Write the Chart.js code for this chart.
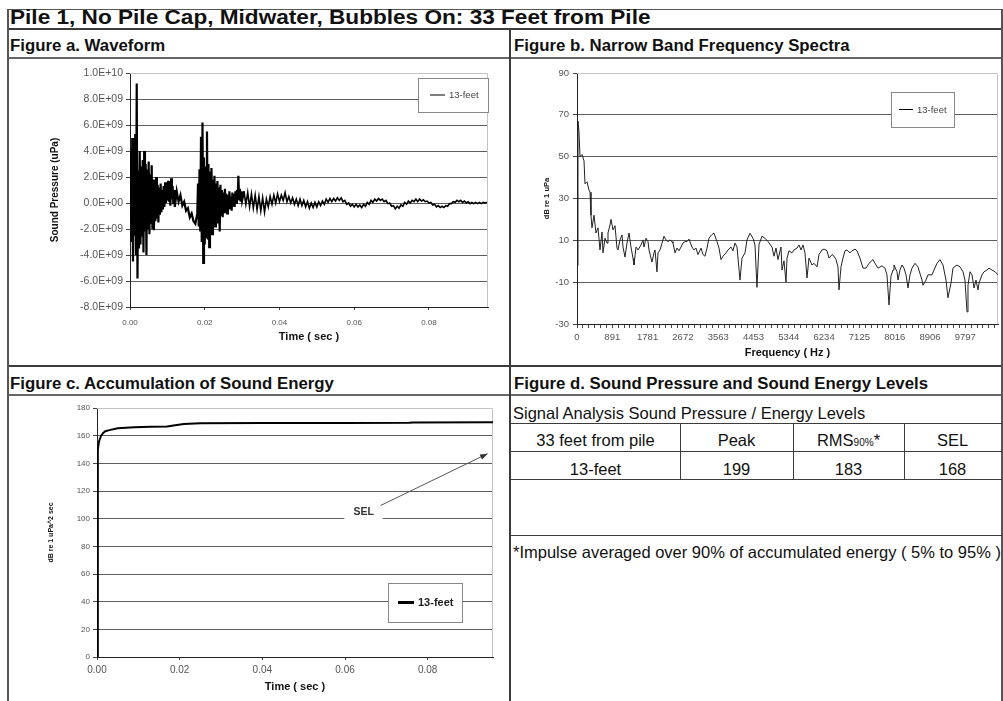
<!DOCTYPE html>
<html>
<head>
<meta charset="utf-8">
<script src="https://cdn.jsdelivr.net/npm/chart.js@4.4.1/dist/chart.umd.min.js"></script>
<style>
  html, body { margin: 0; padding: 0; background: #fff; }
  #page { position: relative; width: 1003px; height: 701px; overflow: hidden;
          font-family: "Liberation Sans", Arial, sans-serif; color: #111; }
  .ln { position: absolute; background: #3c3c3c; }
  .txt { position: absolute; white-space: nowrap; }
  .hd { font-weight: bold; font-size: 16.8px; line-height: 18px; }
  .cell { position: absolute; text-align: center; font-size: 16.5px; line-height: 18px; white-space: nowrap; }
  canvas { position: absolute; }
</style>
</head>
<body>
<div id="page">
  <!-- frame -->
  <div class="ln" style="left:7px;top:9px;width:996px;height:1px;background:#555"></div>
  <div class="ln" style="left:7px;top:28px;width:996px;height:2px"></div>
  <div class="ln" style="left:7px;top:57px;width:996px;height:2px;background:#666"></div>
  <div class="ln" style="left:7px;top:365px;width:996px;height:2px"></div>
  <div class="ln" style="left:7px;top:394px;width:996px;height:2px;background:#666"></div>
  <div class="ln" style="left:7px;top:9px;width:2px;height:692px;background:#555"></div>
  <div class="ln" style="left:509px;top:29px;width:2px;height:672px"></div>
  <div class="ln" style="left:1001px;top:9px;width:2px;height:692px;background:#555"></div>

  <div class="txt" style="left:10px;top:6px;font-size:20px;line-height:22px;font-weight:bold;transform:scaleX(1.13);transform-origin:0 0;">Pile 1, No Pile Cap, Midwater, Bubbles On: 33 Feet from Pile</div>
  <div class="txt hd" style="left:10px;top:37px;">Figure a. Waveform</div>
  <div class="txt hd" style="left:514px;top:37px;">Figure b. Narrow Band Frequency Spectra</div>
  <div class="txt hd" style="left:10px;top:375px;">Figure c. Accumulation of Sound Energy</div>
  <div class="txt hd" style="left:514px;top:375px;">Figure d. Sound Pressure and Sound Energy Levels</div>

  <canvas id="chart-waveform" width="501" height="308" style="left:8px;top:58px"></canvas>
  <canvas id="chart-spectrum" width="490" height="308" style="left:511px;top:58px"></canvas>
  <canvas id="chart-energy" width="501" height="305" style="left:8px;top:396px"></canvas>

  <!-- figure d table -->
  <div class="txt" style="left:513px;top:404px;font-size:16.5px;line-height:18px;">Signal Analysis Sound Pressure / Energy Levels</div>
  <div class="ln" style="left:511px;top:423px;width:492px;height:1px"></div>
  <div class="ln" style="left:511px;top:451px;width:492px;height:1px"></div>
  <div class="ln" style="left:511px;top:479px;width:492px;height:1px"></div>
  <div class="ln" style="left:511px;top:535px;width:492px;height:1px"></div>
  <div class="ln" style="left:680px;top:423px;width:1px;height:56px"></div>
  <div class="ln" style="left:793px;top:423px;width:1px;height:56px"></div>
  <div class="ln" style="left:904px;top:423px;width:1px;height:56px"></div>
  <div id="table-cells"></div>
  <div class="txt" style="left:513px;top:543px;font-size:16.5px;line-height:18px;">*Impulse averaged over 90% of accumulated energy ( 5% to 95% )</div>
</div>

<script>
// ---- figure a: waveform, pressure in units of 1E+09 uPa ----
const burst1Start = 0, burst1Step = 0.0002;
const burst1 = [0, 4.2, -3.0, 5.0, -4.5, 3.0, -2.5, 5.3, -4.0, 9.2,
  -5.8, 2.5, -3.5, 4.0, -3.2, 2.8, -2.6, 3.3, -3.8, 4.0,
  -2.2, 3.0, -4.0, 2.6, -2.0, 3.2, -2.4, 2.2, -1.6, 2.9,
  -2.0, 1.8, -2.1, 1.6, -1.4, 2.0, -1.2, 1.4, -1.5, 1.2,
  -0.9, 1.5, -0.7, 1.0, -0.5, 1.3, -0.3, 1.6, 0.0, 1.2,
  0.2, 1.7, 0.1, 1.4, -0.2, 1.9, 0.3, 1.3, -0.1, 1.0, -0.3];
const lullStart = 0.0125, lullStep = 0.0005;
const lull = [0.9, 0.1, 0.6, -0.2, 0.1, -0.6, -0.4, -1.1, -0.8, -1.4, -1.6];
const burst2Start = 0.018, burst2Step = 0.0002;
const burst2 = [-0.8, 1.5, -1.8, 2.6, -2.2, 5.1, -3.0, 6.2, -4.6, 3.5,
  -3.2, 2.8, -2.6, 5.5, -2.8, 3.0, -3.4, 2.4, -2.0, 2.7,
  -2.4, 1.8, -1.6, 2.1, -1.8, 1.5, -1.3, 1.7, -1.5, 1.2,
  -2.2, 1.4, -0.9, 1.0, -1.1, 0.8, -0.7, 1.1, -0.6, 0.7,
  -0.8, 0.6, -0.5, 0.9, -0.4, 0.5, -0.6, 0.8, -0.2, 0.7,
  -0.3, 0.9, 0.0, 1.0, 0.2, 2.1, 0.3, 1.1, 0.1, 0.9, 0.2];
const tailStart = 0.0305, tailStep = 0.0005;
const tail = [0.9, -0.1, 0.8, -0.3, 0.7, -0.4, 0.6, -0.5, 0.5, -0.6,
  0.4, -0.7, 0.3, -0.3, 0.5, -0.1, 0.6, 0.0, 0.7, 0.1,
  0.6, 0.2, 0.8, 0.1, 0.5, 0.0, 0.4, -0.1, 0.3, -0.2,
  0.3, -0.2, 0.2, -0.3, 0.1, -0.4, 0.0, -0.35, 0.05, -0.3,
  0.1, -0.2, 0.15, -0.1, 0.3, 0.05, 0.35, 0.1, 0.35, 0.15,
  0.4, 0.2, 0.4, 0.1, 0.2, -0.1, 0.0, -0.25, -0.1, -0.3,
  -0.1, -0.3, -0.15, -0.35, -0.1, -0.25, 0.05, -0.1, 0.2, 0.05,
  0.3, 0.15, 0.35, 0.2, 0.3, 0.1, 0.2, -0.05, 0.0, -0.25,
  -0.2, -0.45, -0.25, -0.4, -0.15, -0.25, 0.05, -0.1, 0.15, 0.0,
  0.2, 0.1, 0.3, 0.1, 0.3, 0.15, 0.25, 0.1, 0.15, 0.0,
  0.05, -0.15, -0.1, -0.3, -0.2, -0.35, -0.25, -0.35, -0.2, -0.25,
  -0.05, -0.05, 0.1, 0.05, 0.2, 0.1, 0.2, 0.05, 0.15, 0.0,
  0.1, -0.05, 0.05, -0.05, 0.05, -0.05, 0.05, -0.05, 0.05, 0.0, 0.05];
const timeMax = 0.0958;
const timeTicks = [0, 0.02, 0.04, 0.06, 0.08];
const timeTickLabels = ['0.00', '0.02', '0.04', '0.06', '0.08'];
const pressureTicks = [-8, -6, -4, -2, 0, 2, 4, 6, 8, 10];
const pressureTickLabels = ['-8.0E+09', '-6.0E+09', '-4.0E+09', '-2.0E+09', '0.0E+00',
  '2.0E+09', '4.0E+09', '6.0E+09', '8.0E+09', '1.0E+10'];

// ---- figure b: narrow band spectrum (Hz, dB re 1 uPa) ----
const specFreq = [0, 25, 50, 76, 126, 177, 202, 252, 303, 328, 353, 378, 429, 479, 530, 580, 631, 656, 706, 757,
  782, 833, 858, 908, 959, 1009, 1034, 1085, 1135, 1161, 1211, 1262, 1312, 1362, 1413, 1438, 1489, 1539, 1615, 1665,
  1690, 1741, 1791, 1817, 1892, 1943, 1968, 2018, 2044, 2094, 2145, 2195, 2245, 2296, 2346, 2397, 2422, 2473, 2523, 2573,
  2624, 2674, 2725, 2775, 2826, 2901, 2952, 3002, 3053, 3129, 3179, 3229, 3280, 3330, 3406, 3457, 3532, 3583, 3633, 3684,
  3759, 3810, 3885, 3936, 3986, 4037, 4112, 4163, 4239, 4289, 4365, 4440, 4491, 4541, 4592, 4668, 4743, 4819, 4920, 4970,
  5021, 5071, 5147, 5172, 5223, 5273, 5299, 5349, 5424, 5475, 5551, 5601, 5652, 5702, 5752, 5803, 5853, 5929, 5980, 6055,
  6106, 6181, 6232, 6308, 6358, 6434, 6484, 6535, 6585, 6610, 6661, 6711, 6762, 6812, 6888, 6938, 7014, 7064, 7140, 7216,
  7291, 7367, 7468, 7519, 7594, 7695, 7771, 7821, 7872, 7922, 7973, 7998, 8074, 8099, 8149, 8200, 8250, 8301, 8351, 8402,
  8452, 8528, 8603, 8704, 8730, 8805, 8856, 8957, 9007, 9083, 9158, 9234, 9310, 9360, 9436, 9486, 9587, 9663, 9739, 9789,
  9840, 9865, 9916, 9966, 10017, 10067, 10117, 10143, 10218, 10269, 10344, 10395, 10471, 10546, 10622];
const specLevel = [-2, 67, 62, 50, 51, 48, 37, 38, 34, 33, 22, 16, 22, 13.5, 16, 5.4, 14, 4, 11, 8.7,
  13.5, 17.4, 20, 15, 17, 6.3, 5.4, 10.2, 12.6, 6.8, 2, 8.7, 13.5, 6.8, 1.4, -1.8, 6.8, 5.4, 7.8, 10.2,
  6.8, 11, 9.4, 5.4, -0.4, 4, 5.4, -5.1, 4, 5.4, 8.7, 12, 10.2, 9.4, 10.2, 9.4, 8.7, 4, 6.3, 5,
  6.8, 8.7, 9.4, 9.4, 10.6, 6.8, 5.4, 6.3, 3.2, 6.3, 3.2, 2.4, 6.3, 11, 12.8, 13.4, 9.4, 6.3, 0.8, 2.4,
  4, 5.4, 6.8, 5, 8.7, 6.8, -9, 1.5, 4, 10.2, 13.4, 11, 7.8, -12.5, 8, 12, 11, 9.4, 6.8, 2.4,
  6.3, 0.8, 6.8, -4.2, 0.2, -10, 1.5, 5, 4, 5.4, 6.3, 7.8, 5.4, 7.8, 4, -8, 1.5, -1.8, -1, -2.7,
  3.2, 5.4, 5.8, 5, 1.5, 3.2, 2.4, 0.8, -2.7, -13.7, -2.7, 1.5, 5, 5.4, 4, 5, 5.8, 5, 1.5, -3.3,
  -3.3, -1, 0.8, -1, -3.3, -2.2, -3.3, -6.5, -20.9, -7, -4.2, -1.8, -5, -9, -4.2, -1.8, -3.3, -6.5, -12.8, -6.5,
  -3.3, -1, -2.7, -9, -11.5, -9, -6.5, -6.5, -4.2, -1, 0.8, -1.8, -9, -17.5, -10.5, -3.3, -1.8, -2.7, -5, -9,
  -24.2, -11.5, -5, -6.5, -12.8, -9, -13.7, -10.5, -6.5, -5, -4.2, -3.3, -4.2, -5, -6.5];
const freqMax = 10622;
const freqTicks = [0, 891, 1781, 2672, 3563, 4453, 5344, 6234, 7125, 8016, 8906, 9797];
const levelTicks = [-30, -10, 10, 30, 50, 70, 90];

// ---- figure c: accumulated sound energy (sec, dB re 1 uPa^2 sec) ----
const selTime = [0, 0.0002, 0.0005, 0.001, 0.0015, 0.002, 0.003, 0.005, 0.009, 0.013,
  0.017, 0.0185, 0.021, 0.025, 0.04, 0.06, 0.0755, 0.0765, 0.0958];
const selLevel = [0, 150, 156, 160, 162, 163.2, 164, 165.3, 166.1, 166.4,
  166.6, 167.3, 168.5, 169, 169.1, 169.2, 169.3, 169.6, 169.7];
const energyTicks = [0, 20, 40, 60, 80, 100, 120, 140, 160, 180];

// ---- figure d: levels table ----
const tableHead = ['33 feet from pile', 'Peak', 'RMS<span style="font-size:10px">90%</span>*', 'SEL'];
const tableRow = ['13-feet', 199, 183, 168];

Chart.defaults.font.family = '"Liberation Sans", Arial, sans-serif';
Chart.defaults.color = '#555';

// light grey top/right border of the plot area, like Excel
const plotFrame = {
    id: 'plotFrame',
    beforeDatasetsDraw(chart) {
        const { ctx, chartArea: a } = chart;
        ctx.save();
        ctx.strokeStyle = '#c4c4c4';
        ctx.lineWidth = 1;
        ctx.beginPath();
        ctx.moveTo(a.left, a.top + 0.5);
        ctx.lineTo(a.right - 0.5, a.top + 0.5);
        ctx.lineTo(a.right - 0.5, a.bottom);
        ctx.stroke();
        ctx.restore();
    }
};

// boxed legend sitting inside the plot area
const boxLegend = {
    id: 'boxLegend',
    afterDatasetsDraw(chart, args, o) {
        const { ctx, chartArea: a } = chart;
        const ds = chart.data.datasets[0];
        const x = Math.round(a.right - o.right - o.width), y = Math.round(a.top + o.top);
        ctx.save();
        ctx.fillStyle = '#fff';
        ctx.fillRect(x, y, o.width, o.height);
        ctx.strokeStyle = '#888';
        ctx.lineWidth = 1;
        ctx.strokeRect(x + 0.5, y + 0.5, o.width, o.height);
        const cy = y + o.height / 2;
        ctx.strokeStyle = '#000';
        ctx.lineWidth = o.lineWidth;
        ctx.beginPath();
        ctx.moveTo(x + o.lineX, cy);
        ctx.lineTo(x + o.lineX + o.lineLen, cy);
        ctx.stroke();
        ctx.fillStyle = o.color;
        ctx.font = o.font;
        ctx.textBaseline = 'middle';
        ctx.fillText(ds.label, x + o.lineX + o.lineLen + 4, cy + 0.5);
        ctx.restore();
    }
};

// "SEL" call-out with arrow
const selCallout = {
    id: 'selCallout',
    afterDatasetsDraw(chart, args, o) {
        const { ctx, scales: { x, y } } = chart;
        const lx = x.getPixelForValue(o.at[0]), ly = y.getPixelForValue(o.at[1]);
        const x0 = x.getPixelForValue(o.from[0]), y0 = y.getPixelForValue(o.from[1]);
        const x1 = x.getPixelForValue(o.to[0]), y1 = y.getPixelForValue(o.to[1]);
        ctx.save();
        ctx.font = 'bold 10.5px "Liberation Sans", Arial, sans-serif';
        const w = ctx.measureText(o.text).width;
        ctx.fillStyle = '#fff';
        ctx.fillRect(lx - w / 2 - 9, ly - 9, w + 18, 18);
        ctx.fillStyle = '#333';
        ctx.textAlign = 'center';
        ctx.textBaseline = 'middle';
        ctx.fillText(o.text, lx, ly);
        ctx.strokeStyle = '#555';
        ctx.lineWidth = 1;
        ctx.beginPath();
        ctx.moveTo(x0, y0);
        ctx.lineTo(x1, y1);
        ctx.stroke();
        const ang = Math.atan2(y1 - y0, x1 - x0);
        ctx.fillStyle = '#333';
        ctx.beginPath();
        ctx.moveTo(x1, y1);
        ctx.lineTo(x1 - 8 * Math.cos(ang - 0.35), y1 - 8 * Math.sin(ang - 0.35));
        ctx.lineTo(x1 - 8 * Math.cos(ang + 0.35), y1 - 8 * Math.sin(ang + 0.35));
        ctx.closePath();
        ctx.fill();
        ctx.restore();
    }
};

function samples(start, step, values) {
    return values.map((v, i) => ({ x: start + i * step, y: v }));
}

function gridColor(min, max) {
    return (c) => (c.tick && (c.tick.value === min || c.tick.value === max)) ? 'rgba(0,0,0,0)' : '#5e5e5e';
}

function timeAxis(tickSize, tickPad, titlePad, height) {
    return {
        type: 'linear', min: 0, max: timeMax,
        afterBuildTicks: (ax) => { ax.ticks = timeTicks.map(v => ({ value: v })); },
        ticks: {
            autoSkip: false, maxRotation: 0, padding: tickPad, font: { size: tickSize },
            callback: (v) => timeTickLabels[timeTicks.indexOf(v)]
        },
        grid: { drawOnChartArea: false, tickLength: 3, tickColor: '#444' },
        border: { color: '#222' },
        title: { display: true, text: 'Time ( sec )', color: '#111',
                 font: { size: 11, weight: 'bold' }, padding: { top: 0, bottom: titlePad } },
        afterFit: (s) => { s.height = height; }
    };
}

const FIGURES = {
    init() {
        this.buildWaveform();
        this.buildSpectrum();
        this.buildEnergy();
        this.buildTable();
    },

    buildWaveform() {
        const data = [].concat(
            samples(burst1Start, burst1Step, burst1),
            samples(lullStart, lullStep, lull),
            samples(burst2Start, burst2Step, burst2),
            samples(tailStart, tailStep, tail)
        );
        new Chart(document.getElementById('chart-waveform'), {
            type: 'line',
            data: { datasets: [{ label: '13-feet', data: data, borderColor: '#000', borderWidth: 1.6,
                                 pointRadius: 0, tension: 0,
                                 // the two impulse bursts print as a solid black mass
                                 segment: { borderWidth: (c) => c.p0.parsed.x < tailStart ? 2.2 : 1.6 } }] },
            options: {
                responsive: false, animation: false, devicePixelRatio: 1,
                layout: { padding: { left: 0, top: 15, right: 21, bottom: 0 } },
                plugins: {
                    legend: { display: false }, tooltip: { enabled: false },
                    boxLegend: { right: 0, top: 5, width: 70, height: 34, lineX: 12, lineLen: 15, lineWidth: 1,
                                 font: '9.5px "Liberation Sans", Arial, sans-serif', color: '#444' }
                },
                scales: {
                    x: timeAxis(8, 8, 22, 59),
                    y: {
                        min: -8, max: 10,
                        afterBuildTicks: (ax) => { ax.ticks = pressureTicks.map(v => ({ value: v })); },
                        ticks: { padding: 3, font: { size: 10.5 },
                                 callback: (v) => pressureTickLabels[pressureTicks.indexOf(v)] },
                        grid: { color: gridColor(-8, 10), tickLength: 4, tickColor: '#444' },
                        border: { color: '#222' },
                        title: { display: true, text: 'Sound Pressure (uPa)', color: '#111',
                                 font: { size: 10, weight: 'bold' }, padding: { top: 41, bottom: 0 } },
                        afterFit: (s) => { s.width = 122; }
                    }
                }
            },
            plugins: [plotFrame, boxLegend]
        });
    },

    buildSpectrum() {
        const data = specFreq.map((f, i) => ({ x: f, y: specLevel[i] }));
        const minorStep = freqTicks[freqTicks.length - 1] / ((freqTicks.length - 1) * 6);
        new Chart(document.getElementById('chart-spectrum'), {
            type: 'line',
            data: { datasets: [{ label: '13-feet', data: data, borderColor: '#222', borderWidth: 1,
                                 pointRadius: 0, tension: 0 }] },
            options: {
                responsive: false, animation: false, devicePixelRatio: 1,
                layout: { padding: { left: 0, top: 15, right: 3, bottom: 0 } },
                plugins: {
                    legend: { display: false }, tooltip: { enabled: false },
                    boxLegend: { right: 44, top: 19, width: 63, height: 35, lineX: 8, lineLen: 14, lineWidth: 1,
                                 font: '9.5px "Liberation Sans", Arial, sans-serif', color: '#444' }
                },
                scales: {
                    x: {
                        type: 'linear', min: 0, max: freqMax,
                        afterBuildTicks: (ax) => {
                            const t = [];
                            for (let k = 0; k * minorStep <= freqMax; k++) t.push({ value: k * minorStep });
                            ax.ticks = t;
                        },
                        ticks: {
                            autoSkip: false, maxRotation: 0, padding: 4, font: { size: 9.5 },
                            callback: (v) => {
                                const f = freqTicks.find(m => Math.abs(m - v) < 1);
                                return f === undefined ? '' : String(f);
                            }
                        },
                        grid: { drawOnChartArea: false, tickLength: 4, tickColor: '#444' },
                        border: { color: '#222' },
                        title: { display: true, text: 'Frequency ( Hz )', color: '#111',
                                 font: { size: 11, weight: 'bold' }, padding: { top: 0, bottom: 6 } },
                        afterFit: (s) => { s.height = 42; }
                    },
                    y: {
                        min: -30, max: 90,
                        afterBuildTicks: (ax) => { ax.ticks = levelTicks.map(v => ({ value: v })); },
                        ticks: { padding: 4, font: { size: 9.5 } },
                        grid: { color: gridColor(-30, 90), tickLength: 4, tickColor: '#444' },
                        border: { color: '#222' },
                        title: { display: true, text: 'dB re 1 uPa', color: '#111',
                                 font: { size: 7.5, weight: 'bold' }, padding: { top: 31, bottom: 0 } },
                        afterFit: (s) => { s.width = 66; }
                    }
                }
            },
            plugins: [plotFrame, boxLegend]
        });
    },

    buildEnergy() {
        const data = selTime.map((t, i) => ({ x: t, y: selLevel[i] }));
        new Chart(document.getElementById('chart-energy'), {
            type: 'line',
            data: { datasets: [{ label: '13-feet', data: data, borderColor: '#000', borderWidth: 2,
                                 pointRadius: 0, tension: 0 }] },
            options: {
                responsive: false, animation: false, devicePixelRatio: 1,
                layout: { padding: { left: 0, top: 12, right: 16, bottom: 0 } },
                plugins: {
                    legend: { display: false }, tooltip: { enabled: false },
                    boxLegend: { right: 31, top: 175, width: 74, height: 39, lineX: 10, lineLen: 16, lineWidth: 3,
                                 font: 'bold 11px "Liberation Sans", Arial, sans-serif', color: '#222' },
                    selCallout: { text: 'SEL', at: [0.0645, 105], from: [0.0686, 109.5], to: [0.0945, 147] }
                },
                scales: {
                    x: timeAxis(10, 4, 7, 44),
                    y: {
                        min: 0, max: 180,
                        afterBuildTicks: (ax) => { ax.ticks = energyTicks.map(v => ({ value: v })); },
                        ticks: { padding: 3, font: { size: 8 } },
                        grid: { color: gridColor(0, 180), tickLength: 4, tickColor: '#444' },
                        border: { color: '#222' },
                        title: { display: true, text: 'dB re 1 uPa^2 sec', color: '#111',
                                 font: { size: 7, weight: 'bold' }, padding: { top: 39, bottom: 0 } },
                        afterFit: (s) => { s.width = 89; }
                    }
                }
            },
            plugins: [plotFrame, boxLegend, selCallout]
        });
    },

    buildTable() {
        const cols = [[511, 680], [680, 793], [793, 904], [904, 1001]];
        const holder = document.getElementById('table-cells');
        let html = '';
        cols.forEach((c, i) => {
            html += '<div class="cell" style="left:' + c[0] + 'px;width:' + (c[1] - c[0]) + 'px;top:431px">' + tableHead[i] + '</div>';
            html += '<div class="cell" style="left:' + c[0] + 'px;width:' + (c[1] - c[0]) + 'px;top:460px">' + tableRow[i] + '</div>';
        });
        holder.innerHTML = html;
    }
};

FIGURES.init();
</script>
</body>
</html>
